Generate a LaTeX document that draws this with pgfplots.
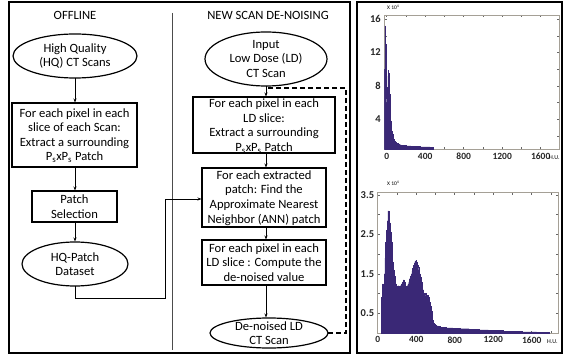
\documentclass[border=0pt]{standalone}
\usepackage{pgfplots}
\pgfplotsset{compat=1.18}
\usepackage{fontspec}
\setmainfont{Carlito}
\usetikzlibrary{arrows.meta}
\definecolor{histc}{RGB}{58,40,118}
\definecolor{axc}{RGB}{165,160,150}

\pgfplotstableread{
x y
-25 10.0
-20 15.2
-14 13.0
-9 9.0
-4 6.5
0 6.0
4 6.6
8 7.8
12 9.2
16 9.9
20 9.5
24 8.4
28 7.0
32 5.8
36 4.6
40 3.8
45 3.1
50 2.6
56 2.2
63 1.9
70 1.6
80 1.35
90 1.2
100 1.1
115 1.0
130 0.95
150 0.9
175 0.85
200 0.8
250 0.76
300 0.73
350 0.7
400 0.68
450 0.65
480 0.4
}\tophist

\pgfplotstableread{
x y
40 0.9
50 1.25
58 0.95
66 1.5
74 1.9
82 2.3
90 2.6
98 2.85
106 3.1
114 3.0
122 2.8
130 2.55
138 2.3
146 2.05
154 1.8
162 1.6
170 1.45
178 1.35
186 1.25
194 1.18
202 1.15
210 1.2
218 1.14
226 1.17
234 1.2
242 1.25
250 1.22
258 1.3
266 1.35
274 1.3
282 1.22
290 1.15
298 1.18
306 1.2
314 1.25
322 1.3
330 1.38
338 1.45
346 1.5
354 1.58
362 1.65
370 1.72
378 1.78
386 1.82
394 1.84
402 1.8
410 1.72
418 1.66
426 1.6
434 1.5
442 1.42
450 1.3
458 1.2
466 1.1
474 1.02
482 0.98
490 1.0
498 0.95
506 0.94
514 0.96
522 0.9
530 0.85
538 0.78
546 0.68
554 0.55
562 0.45
570 0.32
578 0.26
586 0.22
594 0.2
610 0.18
630 0.17
650 0.15
680 0.14
710 0.13
740 0.13
780 0.12
820 0.12
860 0.11
900 0.11
950 0.1
1000 0.09
1050 0.08
1100 0.08
1150 0.07
1200 0.06
1250 0.06
1300 0.05
1350 0.05
1400 0.04
1450 0.04
1500 0.03
1550 0.03
1600 0.03
1650 0.02
1700 0.02
1750 0.01
1780 0
}\bothist

\begin{document}
\begin{tikzpicture}[x=1pt,y=1pt,
  txt/.style={align=center,font=\fontsize{12.6}{14.6}\selectfont,inner sep=0pt},
  bx/.style={draw=black,line width=1.3pt},
  ar/.style={-{Stealth[length=4pt,width=3pt]},line width=0.9pt}]
\useasboundingbox (0,0) rectangle (564,356);
% frames
\draw[line width=1.3pt] (9,3) rectangle (350,354);
\draw[line width=1.3pt] (357,3) rectangle (562,354);
\draw[line width=0.8pt,black!70] (172,343) -- (172,6);
% titles
\node[txt] at (75,341) {OFFLINE};
\node[txt] at (268,341) {NEW SCAN DE-NOISING};
% left column
\draw[line width=1.2pt] (75,300) ellipse [x radius=62, y radius=22];
\node[txt] at (75,300) {High Quality\\(HQ) CT Scans};
\draw[ar] (75,278) -- (75,253.5);
\draw[bx] (12,253) rectangle (137,189);
\node[txt] at (74.5,220.5) {For each pixel in each\\slice of each Scan:\\Extract a surrounding\\P\textsubscript{s}xP\textsubscript{s} Patch};
\draw[ar] (75,188.5) -- (75,165.5);
\draw[bx] (32,165) rectangle (117,134);
\node[txt] at (74.5,149.5) {Patch\\Selection};
\draw[ar] (75,133.5) -- (75,114.5);
\draw[line width=1.2pt] (75,92) ellipse [x radius=53, y radius=22];
\node[txt] at (75,92) {HQ-Patch\\Dataset};
\draw[ar] (75,70) -- (75,58) -- (165,58) -- (165,157) -- (201.5,157);
% right column
\draw[line width=1.2pt] (266,297) ellipse [x radius=61, y radius=27];
\node[txt] at (266,297) {Input\\Low Dose (LD)\\CT Scan};
\draw[ar] (266,270) -- (266,259.5);
\draw[bx] (193,259) rectangle (335,203);
\node[txt] at (264,230) {For each pixel in each\\LD slice:\\Extract a surrounding\\P\textsubscript{s}xP\textsubscript{s} Patch};
\draw[ar] (266,202.5) -- (266,188.5);
\draw[bx] (202,188) rectangle (326,129);
\node[txt] at (264,158) {For each extracted\\patch: Find the\\Approximate Nearest\\Neighbor (ANN) patch};
\draw[ar] (266,128.5) -- (266,116.5);
\draw[bx] (202,116) rectangle (326,71);
\node[txt] at (264,93.5) {For each pixel in each\\LD slice : Compute the\\de-noised value};
\draw[ar] (266,70.5) -- (266,38.5);
\draw[line width=1.2pt] (269,23) ellipse [x radius=59, y radius=15];
\node[txt] at (269,23) {De-noised LD\\CT Scan};
\draw[line width=2pt,dash pattern=on 5pt off 3pt] (328,23) -- (346,23) -- (346,268) -- (268,268);
% histograms
\pgfplotsset{histax/.style={
  scale only axis,
  axis line style={draw=axc,line width=0.8pt},
  tick style={black!60,line width=0.7pt},
  major tick length=2.5pt, minor tick length=2.5pt,
  /pgf/number format/assume math mode=true,
  /pgf/number format/1000 sep={},
  xticklabel style={font=\bfseries\fontsize{9.5}{10}\selectfont,black!85},
  yticklabel style={font=\bfseries\fontsize{10.5}{11}\selectfont,black!85},
  xtick={0,400,800,1200,1600},
  minor xtick={200,600,1000,1400,1800},
}}
\begin{axis}[histax, at={(384.3pt,206.7pt)}, anchor=south west, width=174.7pt, height=134.3pt,
  xmin=-25, xmax=1790, ymin=0.4, ymax=16.5,
  ytick={4,8,12,16}, minor ytick={2,6,10,14}]
\addplot[const plot mark left, fill=histc, draw=histc, line width=0.3pt] table[x=x,y=y] {\tophist} \closedcycle;
\end{axis}
\node[font=\fontsize{5.5}{6}\selectfont,anchor=west,inner sep=0pt] at (387,349) {X 10\textsuperscript{4}};
\node[font=\fontsize{6}{6}\selectfont,anchor=west,inner sep=0pt] at (549,198) {H.U.};
\begin{axis}[histax, at={(377.7pt,23pt)}, anchor=south west, width=180.3pt, height=141pt,
  xmin=0, xmax=1872, ymin=0, ymax=3.58,
  ytick={0.5,1.5,2.5,3.5}, minor ytick={1,2,3},
  yticklabel style={/pgf/number format/.cd,fixed,precision=1,fixed zerofill}]
\addplot[const plot mark left, fill=histc, draw=histc, line width=0.3pt] table[x=x,y=y] {\bothist} \closedcycle;
\end{axis}
\node[font=\fontsize{5.5}{6}\selectfont,anchor=west,inner sep=0pt] at (387,173) {X 10\textsuperscript{4}};
\node[font=\fontsize{6}{6}\selectfont,anchor=west,inner sep=0pt] at (547,14) {H.U.};
\end{tikzpicture}
\end{document}
